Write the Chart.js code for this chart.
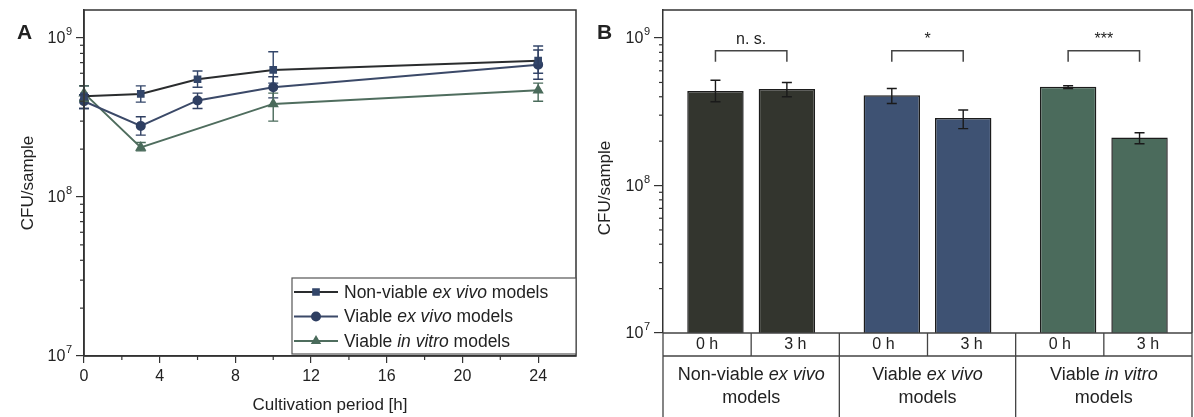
<!DOCTYPE html>
<html>
<head>
<meta charset="utf-8">
<script src="https://cdn.jsdelivr.net/npm/chart.js@4.4.1/dist/chart.umd.min.js"></script>
<style>
body { margin: 0; background: #fff; }
#chartA { position: absolute; left: 0; top: 0; }
#chartB { position: absolute; left: 585px; top: 0; }
</style>
</head>
<body>
<canvas id="chartA" width="585" height="417"></canvas>
<canvas id="chartB" width="609" height="417"></canvas>
<script>
// panel A: CFU over cultivation time
const hours = [0, 3, 6, 10, 24];
const nonViable = [4.3e8, 4.45e8, 5.5e8, 6.3e8, 7.2e8];
const nonViableLow = [3.6e8, 3.95e8, 4.9e8, 5.2e8, 6.0e8];
const nonViableHigh = [5.0e8, 5.0e8, 6.2e8, 8.2e8, 8.9e8];
const viableExVivo = [4.0e8, 2.8e8, 4.05e8, 4.9e8, 6.8e8];
const viableExVivoLow = [3.6e8, 2.45e8, 3.6e8, 4.2e8, 5.5e8];
const viableExVivoHigh = [4.4e8, 3.2e8, 4.5e8, 5.7e8, 8.4e8];
const viableInVitro = [4.5e8, 2.05e8, null, 3.85e8, 4.7e8];
const viableInVitroLow = [4.0e8, 1.95e8, null, 3.0e8, 4.0e8];
const viableInVitroHigh = [5.0e8, 2.2e8, null, 4.5e8, 5.2e8];
const xTicks = [0, 4, 8, 12, 16, 20, 24];
const yTicks = [1e7, 1e8, 1e9];
const legendNames = [
    [['Non-viable ', false], ['ex vivo', true], [' models', false]],
    [['Viable ', false], ['ex vivo', true], [' models', false]],
    [['Viable ', false], ['in vitro', true], [' models', false]]
];

// panel B: 0 h vs 3 h
const groupLabels = [
    [[['Non-viable ', false], ['ex vivo', true]], [['models', false]]],
    [[['Viable ', false], ['ex vivo', true]], [['models', false]]],
    [[['Viable ', false], ['in vitro', true]], [['models', false]]]
];
const timeLabels = ['0 h', '3 h'];
const cfu0h = [4.38e8, 4.09e8, 4.67e8];
const cfu0hLow = [3.7e8, 3.6e8, 4.55e8];
const cfu0hHigh = [5.18e8, 4.55e8, 4.75e8];
const cfu3h = [4.52e8, 2.87e8, 2.12e8];
const cfu3hLow = [4.0e8, 2.43e8, 1.92e8];
const cfu3hHigh = [5.0e8, 3.25e8, 2.28e8];
const signif = ['n. s.', '*', '***'];
const bracketTop = 8.2e8;
const bracketLeg = 6.9e8;

const FONT = '"Liberation Sans", Arial, sans-serif';
const AXIS = '#333';

function mixedText(ctx, parts, cx, y, size) {
    let total = 0;
    parts.forEach(([t, it]) => {
        ctx.font = (it ? 'italic ' : '') + size + 'px ' + FONT;
        total += ctx.measureText(t).width;
    });
    let x = cx - total / 2;
    ctx.textAlign = 'left';
    parts.forEach(([t, it]) => {
        ctx.font = (it ? 'italic ' : '') + size + 'px ' + FONT;
        ctx.fillText(t, x, y);
        x += ctx.measureText(t).width;
    });
    return total;
}

function powerLabels(ctx, scale, xRight) {
    ctx.fillStyle = '#222';
    ctx.textBaseline = 'middle';
    yTicks.forEach(v => {
        const y = scale.getPixelForValue(v);
        const exp = String(Math.round(Math.log10(v)));
        ctx.font = '11px ' + FONT;
        const ew = ctx.measureText(exp).width;
        ctx.textAlign = 'left';
        ctx.fillText(exp, xRight - ew, y - 6);
        ctx.font = '16px ' + FONT;
        ctx.textAlign = 'right';
        ctx.fillText('10', xRight - ew - 0.5, y + 1);
    });
}

function minorLogTicks(ctx, scale, x) {
    ctx.strokeStyle = AXIS;
    ctx.lineWidth = 1.2;
    [1e7, 1e8].forEach(d => {
        for (let k = 2; k <= 9; k++) {
            const y = scale.getPixelForValue(d * k);
            ctx.beginPath();
            ctx.moveTo(x, y);
            ctx.lineTo(x - 4, y);
            ctx.stroke();
        }
    });
}

function verticalTitle(ctx, text, x, y) {
    ctx.save();
    ctx.translate(x, y);
    ctx.rotate(-Math.PI / 2);
    ctx.font = '17px ' + FONT;
    ctx.fillStyle = '#222';
    ctx.textAlign = 'center';
    ctx.textBaseline = 'middle';
    ctx.fillText(text, 0, 0);
    ctx.restore();
}

function errorBar(ctx, x, yLow, yHigh, color, cap) {
    ctx.strokeStyle = color;
    ctx.lineWidth = 1.4;
    ctx.beginPath();
    ctx.moveTo(x, yLow); ctx.lineTo(x, yHigh);
    ctx.moveTo(x - cap, yLow); ctx.lineTo(x + cap, yLow);
    ctx.moveTo(x - cap, yHigh); ctx.lineTo(x + cap, yHigh);
    ctx.stroke();
}

const seriesA = [
    { label: 'Non-viable ex vivo models', data: nonViable, low: nonViableLow, high: nonViableHigh,
      line: '#2a2c2e', marker: '#33466a', style: 'rect' },
    { label: 'Viable ex vivo models', data: viableExVivo, low: viableExVivoLow, high: viableExVivoHigh,
      line: '#3b4968', marker: '#2f3f62', style: 'circle' },
    { label: 'Viable in vitro models', data: viableInVitro, low: viableInVitroLow, high: viableInVitroHigh,
      line: '#4f6d5e', marker: '#4a6b5b', style: 'triangle' }
];

new Chart(document.getElementById('chartA'), {
    type: 'line',
    data: {
        datasets: seriesA.map(s => ({
            label: s.label,
            data: hours.map((h, i) => ({ x: h, y: s.data[i] })).filter(p => p.y !== null),
            borderColor: s.line,
            borderWidth: 2,
            backgroundColor: s.marker,
            pointBackgroundColor: s.marker,
            pointBorderColor: s.marker,
            pointStyle: s.style,
            pointRadius: s.style === 'triangle' ? 4.5 : 4,
            clip: false
        }))
    },
    options: {
        responsive: false,
        animation: false,
        layout: { padding: { top: 10, right: 9 } },
        plugins: { legend: { display: false }, tooltip: { enabled: false } },
        scales: {
            x: {
                type: 'linear',
                min: 0,
                max: 26,
                afterBuildTicks: s => { s.ticks = xTicks.map(v => ({ value: v })); },
                afterFit: s => { s.height = 61; },
                grid: { drawOnChartArea: false, tickLength: 7, color: AXIS, lineWidth: 1.2 },
                border: { color: AXIS, width: 1.5 },
                ticks: { font: { family: FONT, size: 16 }, color: '#222', padding: 4, maxRotation: 0 }
            },
            y: {
                type: 'logarithmic',
                min: 1e7,
                max: 1.5e9,
                afterBuildTicks: s => { s.ticks = yTicks.map(v => ({ value: v })); },
                afterFit: s => { s.width = 84; },
                grid: { drawOnChartArea: false, tickLength: 8, color: AXIS, lineWidth: 1.2 },
                border: { color: AXIS, width: 1.5 },
                ticks: { display: false }
            }
        }
    },
    plugins: [{
        id: 'panelA',
        afterDatasetsDraw(chart) {
            const ctx = chart.ctx, xs = chart.scales.x, ys = chart.scales.y;
            seriesA.forEach(s => {
                hours.forEach((h, i) => {
                    if (s.data[i] === null) return;
                    errorBar(ctx, xs.getPixelForValue(h), ys.getPixelForValue(s.low[i]),
                        ys.getPixelForValue(s.high[i]), s.marker, 5);
                });
            });
        },
        afterDraw(chart) {
            const ctx = chart.ctx, a = chart.chartArea, xs = chart.scales.x, ys = chart.scales.y;
            ctx.save();
            ctx.strokeStyle = AXIS;
            ctx.lineWidth = 1.5;
            ctx.strokeRect(a.left, a.top, a.right - a.left, a.bottom - a.top);
            // minor ticks
            minorLogTicks(ctx, ys, a.left);
            ctx.lineWidth = 1.2;
            [2, 6, 10, 14, 18, 22].forEach(v => {
                const x = xs.getPixelForValue(v);
                ctx.beginPath(); ctx.moveTo(x, a.bottom); ctx.lineTo(x, a.bottom + 4); ctx.stroke();
            });
            powerLabels(ctx, ys, a.left - 12);
            verticalTitle(ctx, 'CFU/sample', 28, (a.top + a.bottom) / 2);
            ctx.font = '17px ' + FONT;
            ctx.fillStyle = '#222';
            ctx.textAlign = 'center';
            ctx.textBaseline = 'middle';
            ctx.fillText('Cultivation period [h]', (a.left + a.right) / 2, 405);
            ctx.font = 'bold 21px ' + FONT;
            ctx.textAlign = 'left';
            ctx.fillText('A', 17, 33);
            // legend
            const bx = 292, by = 278, bw = a.right - bx, bh = 76;
            ctx.fillStyle = '#fff';
            ctx.fillRect(bx, by, bw, bh);
            ctx.strokeStyle = '#555';
            ctx.lineWidth = 1.2;
            ctx.strokeRect(bx, by, bw, bh);
            seriesA.forEach((s, i) => {
                const y = 292 + i * 24.5;
                ctx.strokeStyle = s.line;
                ctx.lineWidth = 2;
                ctx.beginPath(); ctx.moveTo(bx + 2, y); ctx.lineTo(bx + 46, y); ctx.stroke();
                ctx.fillStyle = s.marker;
                ctx.strokeStyle = s.marker;
                Chart.helpers.drawPoint(ctx, { pointStyle: s.style, radius: 4, borderWidth: 1 }, bx + 24, y);
                ctx.fill();
                ctx.fillStyle = '#222';
                ctx.textBaseline = 'middle';
                let x = bx + 52;
                legendNames[i].forEach(([t, it]) => {
                    ctx.font = (it ? 'italic ' : '') + '17.5px ' + FONT;
                    ctx.textAlign = 'left';
                    ctx.fillText(t, x, y + 1);
                    x += ctx.measureText(t).width;
                });
            });
            ctx.restore();
        }
    }]
});

const barColors = ['#33352e', '#3e5273', '#4b6b5c'];

new Chart(document.getElementById('chartB'), {
    type: 'bar',
    data: {
        labels: ['Non-viable ex vivo models', 'Viable ex vivo models', 'Viable in vitro models'],
        datasets: [
            { label: timeLabels[0], data: cfu0h, low: cfu0hLow, high: cfu0hHigh },
            { label: timeLabels[1], data: cfu3h, low: cfu3hLow, high: cfu3hHigh }
        ].map(d => Object.assign(d, {
            backgroundColor: barColors,
            borderColor: '#1c1c1c',
            borderWidth: 1.5,
            categoryPercentage: 0.81,
            barPercentage: 0.79
        }))
    },
    options: {
        responsive: false,
        animation: false,
        layout: { padding: { top: 10, right: 2 } },
        plugins: { legend: { display: false }, tooltip: { enabled: false } },
        scales: {
            x: {
                grid: { display: false },
                border: { display: false },
                ticks: { display: false },
                afterFit: s => { s.height = 84; }
            },
            y: {
                type: 'logarithmic',
                min: 1e7,
                max: 1.55e9,
                afterBuildTicks: s => { s.ticks = yTicks.map(v => ({ value: v })); },
                afterFit: s => { s.width = 78; },
                grid: { drawOnChartArea: false, tickLength: 9, color: AXIS, lineWidth: 1.2 },
                border: { color: AXIS, width: 1.5 },
                ticks: { display: false }
            }
        }
    },
    plugins: [{
        id: 'panelB',
        afterDatasetsDraw(chart) {
            const ctx = chart.ctx, ys = chart.scales.y;
            ctx.save();
            chart.data.datasets.forEach((d, di) => {
                chart.getDatasetMeta(di).data.forEach((bar, i) => {
                    errorBar(ctx, bar.x, ys.getPixelForValue(d.low[i]), ys.getPixelForValue(d.high[i]), '#1a1a1a', 5);
                });
            });
            // significance brackets
            const m0 = chart.getDatasetMeta(0).data, m1 = chart.getDatasetMeta(1).data;
            const yt = ys.getPixelForValue(bracketTop), yl = ys.getPixelForValue(bracketLeg);
            signif.forEach((txt, i) => {
                const x0 = m0[i].x, x1 = m1[i].x;
                ctx.strokeStyle = '#444';
                ctx.lineWidth = 1.5;
                ctx.beginPath();
                ctx.moveTo(x0, yl); ctx.lineTo(x0, yt); ctx.lineTo(x1, yt); ctx.lineTo(x1, yl);
                ctx.stroke();
                ctx.fillStyle = '#222';
                ctx.font = '16px ' + FONT;
                ctx.textAlign = 'center';
                ctx.textBaseline = 'bottom';
                ctx.fillText(txt, (x0 + x1) / 2, yt - 3);
            });
            ctx.restore();
        },
        afterDraw(chart) {
            const ctx = chart.ctx, a = chart.chartArea, ys = chart.scales.y, xs = chart.scales.x;
            ctx.save();
            ctx.strokeStyle = AXIS;
            ctx.lineWidth = 1.5;
            ctx.beginPath();
            ctx.moveTo(a.left, a.top); ctx.lineTo(a.right, a.top); ctx.lineTo(a.right, a.bottom);
            ctx.stroke();
            minorLogTicks(ctx, ys, a.left);
            powerLabels(ctx, ys, a.left - 13);
            verticalTitle(ctx, 'CFU/sample', 20, 188);
            ctx.font = 'bold 21px ' + FONT;
            ctx.fillStyle = '#222';
            ctx.textAlign = 'left';
            ctx.textBaseline = 'middle';
            ctx.fillText('B', 12, 33);
            // category table
            const cw = (a.right - a.left) / groupLabels.length;
            const rowY = a.bottom + 23, endY = chart.height;
            ctx.strokeStyle = '#444';
            ctx.lineWidth = 1.3;
            ctx.beginPath();
            ctx.moveTo(a.left, a.bottom); ctx.lineTo(a.right, a.bottom);
            ctx.moveTo(a.left, rowY); ctx.lineTo(a.right, rowY);
            for (let g = 0; g <= groupLabels.length; g++) {
                const x = a.left + g * cw;
                ctx.moveTo(x, a.bottom); ctx.lineTo(x, endY);
            }
            groupLabels.forEach((_, g) => {
                const xc = xs.getPixelForValue(g);
                ctx.moveTo(xc, a.bottom); ctx.lineTo(xc, rowY);
            });
            ctx.stroke();
            ctx.fillStyle = '#222';
            ctx.textBaseline = 'middle';
            groupLabels.forEach((lines, g) => {
                const xc = xs.getPixelForValue(g);
                timeLabels.forEach((t, k) => {
                    ctx.font = '16px ' + FONT;
                    ctx.textAlign = 'center';
                    ctx.fillText(t, xc + (k === 0 ? -cw / 4 : cw / 4), a.bottom + 12);
                });
                lines.forEach((parts, li) => mixedText(ctx, parts, xc, 375 + li * 23, 18));
            });
            ctx.restore();
        }
    }]
});
</script>
</body>
</html>
